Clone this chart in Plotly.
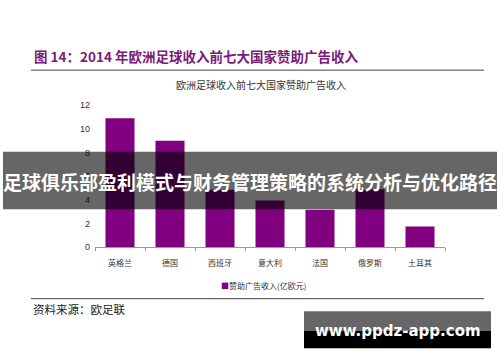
import plotly.graph_objects as go

categories = ["英格兰", "德国", "西班牙", "意大利", "法国", "俄罗斯", "土耳其"]
values = [10.9, 9.0, 4.85, 3.95, 3.15, 4.9, 1.75]
series_name = "赞助广告收入(亿欧元)"
y_ticks = [0, 2, 4, 6, 8, 10, 12]
bar_color = "#800080"

W, H = 500, 362
CJK = "Noto Sans CJK SC"

def py(p):
    return 1 - p / H

def px(p):
    return p / W

fig = go.Figure()
fig.add_trace(go.Bar(
    x=categories, y=values, name=series_name,
    marker=dict(color=bar_color, line=dict(width=0)),
    width=0.58, showlegend=False,
))

fig.update_layout(
    width=W, height=H,
    margin=dict(l=0, r=0, t=0, b=0),
    paper_bgcolor="white", plot_bgcolor="white",
    font=dict(family=CJK, size=9, color="#333"),
    xaxis=dict(
        domain=[px(95), px(445)],
        showline=True, linecolor="#999", linewidth=1,
        ticks="outside", tickson="boundaries", ticklen=3, tickcolor="#999",
        tickfont=dict(size=8, color="#333", family=CJK),
        ticklabelstandoff=8,
        showgrid=False, fixedrange=True,
    ),
    yaxis=dict(
        domain=[py(249), py(103)],
        range=[0, 12], tickvals=y_ticks,
        showgrid=False, zeroline=False, showline=False,
        tickfont=dict(size=9, color="#333", family="Liberation Sans"),
        ticks="", ticklabelstandoff=4, fixedrange=True,
    ),
)

shapes = [
    dict(type="line", xref="paper", yref="paper", x0=px(31), x1=px(484), y0=py(67), y1=py(67),
         line=dict(color="#444", width=1)),
    dict(type="line", xref="paper", yref="paper", x0=px(31), x1=px(484), y0=py(302), y1=py(302),
         line=dict(color="#444", width=1)),
    dict(type="rect", xref="paper", yref="paper", x0=px(3), x1=px(497), y0=py(210), y1=py(151),
         fillcolor="rgba(0,0,0,0.6)", line=dict(width=0), layer="above"),
    dict(type="rect", xref="paper", yref="paper", x0=px(304), x1=px(491), y0=py(335), y1=py(315),
         fillcolor="#666666", line=dict(width=0), layer="above"),
    dict(type="rect", xref="paper", yref="paper", x0=px(304), x1=px(491), y0=py(353), y1=py(335),
         fillcolor="#000000", line=dict(width=0), layer="above"),
]
fig.update_layout(shapes=shapes)

ann = [
    dict(text="<b>图 14：2014 年欧洲足球收入前七大国家赞助广告收入</b>", x=px(32), y=py(52),
         xanchor="left", yanchor="middle", font=dict(size=13.5, color="#7a1a7a", family=CJK)),
    dict(text="欧洲足球收入前七大国家赞助广告收入", x=px(261), y=py(82),
         xanchor="center", yanchor="middle", font=dict(size=10, color="#333", family=CJK)),
    dict(text=f"<span style='color:{bar_color}'>■</span>{series_name}", x=px(263), y=py(288),
         xanchor="center", yanchor="middle", font=dict(size=8, color="#333", family=CJK)),
    dict(text="资料来源：欧足联", x=px(31), y=py(313),
         xanchor="left", yanchor="middle", font=dict(size=11.5, color="#222", family=CJK)),
    dict(text="<b>足球俱乐部盈利模式与财务管理策略的系统分析与优化路径</b>", x=0.5, y=py(182),
         xanchor="center", yanchor="middle", font=dict(size=19, color="white", family=CJK)),
    dict(text="<b>www.ppdz-app.com</b>", x=px(397.5), y=py(335),
         xanchor="center", yanchor="middle", font=dict(size=15, color="white", family="DejaVu Sans")),
]
for a in ann:
    a.update(xref="paper", yref="paper", showarrow=False)
fig.update_layout(annotations=ann)

fig.write_html("out.html", config={"displayModeBar": False},
               post_script="document.body.style.margin='0';")
